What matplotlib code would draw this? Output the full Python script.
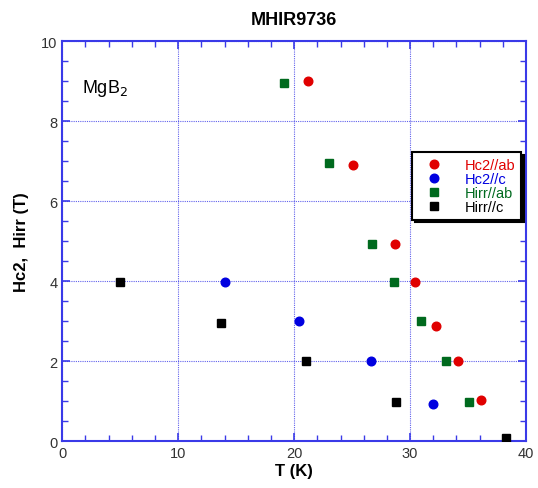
import matplotlib.pyplot as plt
from matplotlib.ticker import MultipleLocator

plt.rcParams['font.family'] = ['Liberation Sans', 'DejaVu Sans']

# Hc2 parallel to ab (red circles)
hc2_ab_T = [21.2, 25.1, 28.7, 30.4, 32.2, 34.1, 36.1]
hc2_ab_H = [9.0, 6.9, 4.93, 3.97, 2.88, 1.99, 1.03]

# Hc2 parallel to c (blue circles)
hc2_c_T = [14.0, 20.4, 26.6, 32.0]
hc2_c_H = [3.97, 3.0, 1.99, 0.92]

# Hirr parallel to ab (green squares)
hirr_ab_T = [19.1, 23.0, 26.7, 28.6, 30.9, 33.1, 35.1]
hirr_ab_H = [8.95, 6.95, 4.93, 3.97, 3.0, 1.99, 0.97]

# Hirr parallel to c (black squares)
hirr_c_T = [5.0, 13.7, 21.0, 28.8, 38.3]
hirr_c_H = [3.97, 2.95, 1.99, 0.97, 0.07]

blue = '#3a3ae8'

fig = plt.figure(figsize=(5.38, 4.89), dpi=100)
ax = fig.add_axes([0.1158, 0.0961, 0.862, 0.818])

ax.plot(hc2_ab_T, hc2_ab_H, 'o', color='#e00000', ms=6.2, label='Hc2//ab', zorder=3)
ax.plot(hc2_c_T, hc2_c_H, 'o', color='#0000e0', ms=6.2, label='Hc2//c', zorder=3)
ax.plot(hirr_ab_T, hirr_ab_H, 's', color='#006a1e', ms=5.6, label='Hirr//ab', zorder=3)
ax.plot(hirr_c_T, hirr_c_H, 's', color='black', ms=5.6, label='Hirr//c', zorder=3)

ax.set_xlim(0, 40)
ax.set_ylim(0, 10)
ax.xaxis.set_major_locator(MultipleLocator(10))
ax.xaxis.set_minor_locator(MultipleLocator(2))
ax.yaxis.set_major_locator(MultipleLocator(2))
ax.yaxis.set_minor_locator(MultipleLocator(0.5))

for s in ax.spines.values():
    s.set_color(blue)
    s.set_linewidth(1.5)
ax.tick_params(which='both', direction='in', top=True, right=True, color=blue,
               labelcolor='#333333', labelsize=10.5)
ax.tick_params(which='major', length=6, width=1.2)
ax.tick_params(which='minor', length=4, width=1.0)
ax.grid(True, which='major', color=blue, linestyle=(0, (1, 1)), linewidth=0.8, alpha=0.8)

ax.set_xlabel('T (K)', fontsize=12, fontweight='bold', labelpad=2)
ax.set_ylabel('Hc2,  Hirr (T)', fontsize=12, fontweight='bold', labelpad=9)
ax.set_title('MHIR9736', fontsize=13, fontweight='bold', pad=12)

ax.text(1.7, 8.85, 'MgB$_2$', fontsize=13, va='center', ha='left')

leg = ax.legend(loc='upper left', bbox_to_anchor=(0.754, 0.7225), borderaxespad=0,
                fancybox=False, shadow={'color': 'black', 'alpha': 1},
                edgecolor='black', framealpha=1, fontsize=10.5,
                labelcolor='markerfacecolor', handletextpad=1.0, borderpad=0.4,
                labelspacing=0.0, handlelength=2.2)
leg.get_frame().set_linewidth(1.5)

fig.savefig('out.png', dpi=100)
